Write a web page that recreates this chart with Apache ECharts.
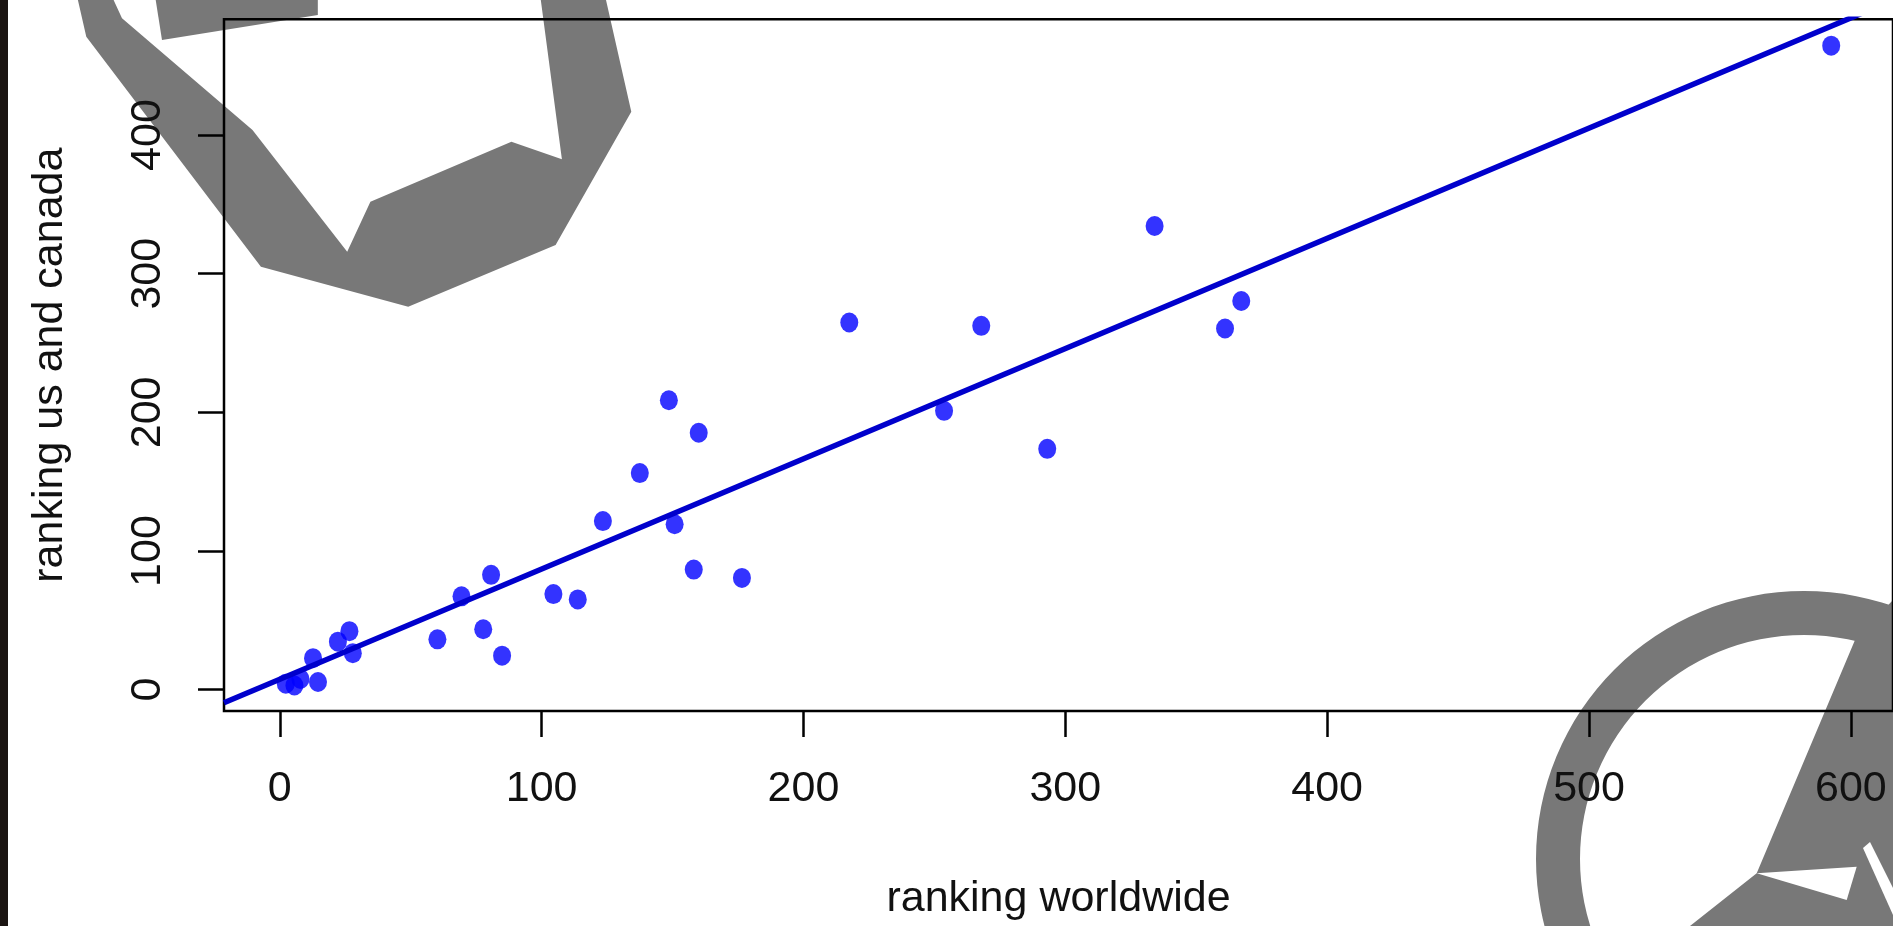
<!DOCTYPE html>
<html>
<head>
<meta charset="utf-8">
<script src="https://cdn.jsdelivr.net/npm/echarts@6/dist/echarts.min.js"></script>
<style>
html,body{margin:0;padding:0;background:#fff;}
#chart{width:1893px;height:926px;}
</style>
</head>
<body>
<div id="chart"></div>
<script>
// ---- data ----
const xTicks = [0, 100, 200, 300, 400, 500, 600];
const yTicks = [0, 100, 200, 300, 400];
const worldRank = [592.5, 334.1, 367.2, 361.0, 217.5, 267.9, 253.7, 293.1,
  148.6, 160.0, 137.5, 123.4, 150.8, 158.1, 176.5,
  60.2, 69.4, 80.7, 77.7, 84.9, 104.5, 113.8,
  26.6, 22.2, 27.9, 12.7, 2.3, 5.6, 7.9, 14.6];
const usCanadaRank = [464.5, 334.4, 280.3, 260.5, 264.8, 262.4, 201.1, 173.7,
  208.7, 185.3, 156.2, 121.6, 119.3, 86.6, 80.6,
  36.3, 67.3, 82.8, 43.6, 24.5, 68.9, 65.1,
  42.2, 34.6, 26.3, 22.7, 4.3, 3.0, 7.7, 5.5];
const fitIntercept = 7.5;   // fitted line
const fitSlope = 0.795;
const xLabel = 'ranking worldwide';
const yLabel = 'ranking us and canada';

const xMin = -21.3, xMax = 616.1, yMin = -15.4, yMax = 483.5;

const points = worldRank.map((x, i) => [x, usCanadaRank[i]]);
const fitLine = [xMin, xMax].map(x => [x, fitIntercept + fitSlope * x]);

const FONT = '"Liberation Sans", Arial, sans-serif';
const GRAY = '#787878';

const chart = echarts.init(document.getElementById('chart'), null, {renderer: 'canvas'});
chart.setOption({
  backgroundColor: '#ffffff',
  animation: false,
  textStyle: {fontFamily: FONT},
  grid: {
    left: 224, top: 19.3, width: 1676.7, height: 698.5,
    show: true, borderColor: '#000', borderWidth: 2.5, backgroundColor: 'transparent'
  },
  graphic: [
    {type: 'rect', z: -5, shape: {x: 0, y: 0, width: 8, height: 926}, style: {fill: '#1b1512'}},
    {type: 'polygon', z: -5, shape: {points: [
      [77.9,0],[86.3,36.7],[260.9,266.7],[408.2,306.7],[555.6,245],[631.3,111.7],[606,0],
      [540.8,0],[561.9,159.3],[511.4,141.7],[370.4,201.7],[347.2,251.7],[252.5,130],[122,18.3],[113.6,0]
    ]}, style: {fill: GRAY}},
    {type: 'polygon', z: -5, shape: {points: [[155.7,0],[317.8,0],[317.8,15],[162,40]]}, style: {fill: GRAY}},
    {type: 'ring', z: -5, shape: {cx: 1804, cy: 859, r: 268, r0: 224}, style: {fill: GRAY}},
    {type: 'polygon', z: -5, shape: {points: [[1855,640],[1893,600],[1893,926],[1690,926],[1756.7,873.3]]}, style: {fill: GRAY}},
    {type: 'polygon', z: -4, shape: {points: [[1756.7,873.3],[1846.7,900],[1856.7,866.7]]}, style: {fill: '#fff'}},
    {type: 'polygon', z: -4, shape: {points: [[1863,848],[1870,842],[1893,888],[1893,915]]}, style: {fill: '#fff'}}
  ],
  xAxis: {
    type: 'value', min: xMin, max: xMax,
    axisLine: {show: false, onZero: false},
    splitLine: {show: false},
    axisTick: {show: true, customValues: xTicks, length: 26, lineStyle: {color: '#000', width: 2.5}},
    axisLabel: {customValues: xTicks, fontSize: 43, color: '#111', fontFamily: FONT, margin: 57},
    name: xLabel, nameLocation: 'middle', nameGap: 167,
    nameTextStyle: {fontSize: 43, color: '#111', fontFamily: FONT}
  },
  yAxis: {
    type: 'value', min: yMin, max: yMax,
    axisLine: {show: false, onZero: false},
    splitLine: {show: false},
    axisTick: {show: true, customValues: yTicks, length: 26, lineStyle: {color: '#000', width: 2.5}},
    axisLabel: {customValues: yTicks, fontSize: 43, color: '#111', fontFamily: FONT, rotate: 90, margin: 54},
    name: yLabel, nameLocation: 'middle', nameGap: 152, nameRotate: 90,
    nameTextStyle: {fontSize: 43, color: '#111', fontFamily: FONT}
  },
  series: [
    {type: 'scatter', data: points, symbol: 'circle', symbolSize: [18, 20],
     itemStyle: {color: '#0000ff'}, z: 3, silent: true},
    {type: 'line', data: fitLine, showSymbol: false, clip: true,
     lineStyle: {color: '#0000cc', width: 5.5}, z: 4, silent: true}
  ]
});
</script>
</body>
</html>
